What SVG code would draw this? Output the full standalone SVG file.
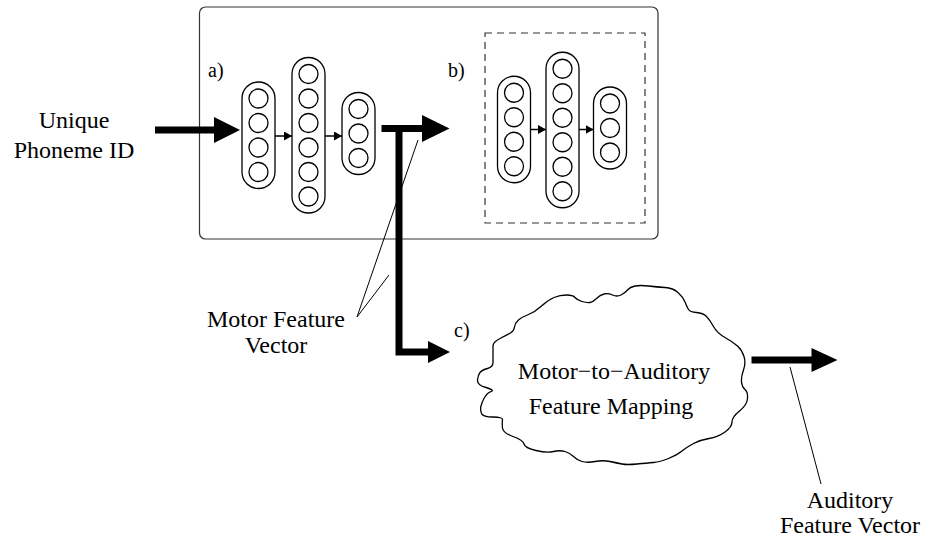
<svg xmlns="http://www.w3.org/2000/svg" width="929" height="539" viewBox="0 0 929 539">
<defs>
<style>
.t{font-family:"Liberation Serif","Times New Roman",serif;font-size:24px;fill:#000}
.lbl{font-family:"Liberation Serif","Times New Roman",serif;font-size:20px;fill:#000}
.pill{fill:#fff;stroke:#000;stroke-width:1.3}
.c{fill:#fff;stroke:#000;stroke-width:1.3}
.thin{stroke:#000;stroke-width:1;fill:none}
.sa{stroke:#000;stroke-width:1.5;fill:none;marker-end:url(#sm)}
.thick{stroke:#000;stroke-width:7;fill:none}
.head{fill:#000;stroke:none}
</style>
<marker id="sm" markerUnits="userSpaceOnUse" markerWidth="8" markerHeight="9" refX="8" refY="4.5" orient="auto">
<path d="M0,0 L8,4.5 L0,9 Z" fill="#000"/>
</marker>
</defs>
<rect width="929" height="539" fill="#fff"/>

<g id="frame">
<rect x="199.5" y="7" width="458.5" height="232" rx="6" fill="none" stroke="#333" stroke-width="1.2"/>
<rect x="485" y="33" width="160" height="190" fill="none" stroke="#333" stroke-width="1.2" stroke-dasharray="7,5"/>
</g>

<g id="net-a">
<rect class="pill" x="242" y="82" width="33" height="106.5" rx="16.5"/>
<circle class="c" cx="258.5" cy="98.5" r="9.5"/><circle class="c" cx="258.5" cy="123" r="9.5"/><circle class="c" cx="258.5" cy="147.5" r="9.5"/><circle class="c" cx="258.5" cy="172" r="9.5"/>
<rect class="pill" x="292" y="57.5" width="33" height="155.5" rx="16.5"/>
<circle class="c" cx="308.5" cy="74" r="9.5"/><circle class="c" cx="308.5" cy="98.5" r="9.5"/><circle class="c" cx="308.5" cy="123" r="9.5"/><circle class="c" cx="308.5" cy="147.5" r="9.5"/><circle class="c" cx="308.5" cy="172" r="9.5"/><circle class="c" cx="308.5" cy="196.5" r="9.5"/>
<rect class="pill" x="342" y="92.5" width="33" height="82" rx="16.5"/>
<circle class="c" cx="358.5" cy="109" r="9.5"/><circle class="c" cx="358.5" cy="133.5" r="9.5"/><circle class="c" cx="358.5" cy="158" r="9.5"/>
<line class="sa" x1="275" y1="136" x2="292" y2="136"/>
<line class="sa" x1="325" y1="136" x2="342" y2="136"/>
</g>

<g id="net-b">
<rect class="pill" x="497.5" y="76.25" width="33" height="106.5" rx="16.5"/>
<circle class="c" cx="514" cy="92.75" r="9.5"/><circle class="c" cx="514" cy="117.25" r="9.5"/><circle class="c" cx="514" cy="141.75" r="9.5"/><circle class="c" cx="514" cy="166.25" r="9.5"/>
<rect class="pill" x="546" y="52.25" width="33" height="155.5" rx="16.5"/>
<circle class="c" cx="562.5" cy="68.75" r="9.5"/><circle class="c" cx="562.5" cy="93.25" r="9.5"/><circle class="c" cx="562.5" cy="117.75" r="9.5"/><circle class="c" cx="562.5" cy="142.25" r="9.5"/><circle class="c" cx="562.5" cy="166.75" r="9.5"/><circle class="c" cx="562.5" cy="191.25" r="9.5"/>
<rect class="pill" x="593.5" y="87" width="33" height="82" rx="16.5"/>
<circle class="c" cx="610" cy="103.5" r="9.5"/><circle class="c" cx="610" cy="128" r="9.5"/><circle class="c" cx="610" cy="152.5" r="9.5"/>
<line class="sa" x1="530.5" y1="129.5" x2="546" y2="129.5"/>
<line class="sa" x1="579" y1="129.5" x2="593.5" y2="129.5"/>
</g>

<g id="cloud">
<path fill="#fff" stroke="#000" stroke-width="1.3" stroke-linejoin="round" d="M493,346 Q493,342 500,338.5 Q507,335 510.5,333 Q514,331 514.5,327 Q515,323 518.5,320 Q522,317 528.5,314.5 Q535,312 541.5,306 Q548,300 554,297.5 Q560,295 566.5,295 Q573,295 575,297.5 Q577,300 582,301.5 Q587,303 590,302.5 Q593,302 596.5,298.5 Q600,295 604,294 Q608,293 612.5,295 Q617,297 621,295 Q625,293 627.5,290 Q630,287 635,286 Q640,285 648.5,286 Q657,287 665,287.5 Q673,288 678,292.5 Q683,297 685,302 Q687,307 688.5,309.5 Q690,312 696.5,312.5 Q703,313 706.5,316.5 Q710,320 713.5,326.5 Q717,333 725,337.5 Q733,342 737.5,346 Q742,350 744,356.5 Q746,363 743.5,370 Q741,377 741.5,382 Q742,387 745,389.5 Q748,392 747.5,398.5 Q747,405 739.5,411 Q732,417 732,422 Q732,427 725,432 Q718,437 709,438.5 Q700,440 693.5,443.5 Q687,447 682,451 Q677,455 668.5,458.5 Q660,462 653.5,462.5 Q647,463 637,464 Q627,465 622,464 Q617,463 610,461.5 Q603,460 595,461.5 Q587,463 582,461.5 Q577,460 573.5,456.5 Q570,453 565,451.5 Q560,450 553.5,451.5 Q547,453 536,450.5 Q525,448 524,444 Q523,440 513,436.5 Q503,433 502.5,428 Q502,423 502.5,420 Q503,417 493,417 Q483,417 481.5,413.5 Q480,410 481,406 Q482,402 484.5,397.5 Q487,393 491,391.5 Q495,390 486,387.5 Q477,385 477.5,380 Q478,375 480,372.5 Q482,370 487.5,368.5 Q493,367 493,362.5 Q493,358 493,354 Q493,350 493,346 Z"/>
<text class="t" x="614" y="379" text-anchor="middle">Motor−to−Auditory</text>
<text class="t" x="611" y="414" text-anchor="middle">Feature Mapping</text>
</g>

<g id="connectors">
<line class="thick" x1="155" y1="130" x2="215" y2="130" stroke-width="6"/>
<polygon class="head" points="214,117 240,130 214,143"/>
<line class="thick" x1="381.5" y1="128.5" x2="423" y2="128.5"/>
<polygon class="head" points="422,115 449.5,128.5 422,142"/>
<polyline class="thick" points="399,125 399,352 429,352" stroke-linejoin="miter"/>
<polygon class="head" points="428,341 450,352 428,363"/>
<line class="thick" x1="751.5" y1="360" x2="813" y2="360" stroke-width="6"/>
<polygon class="head" points="811.5,348 837.5,360 811.5,372"/>
<line class="thin" x1="357" y1="317" x2="418" y2="140"/>
<line class="thin" x1="357" y1="317" x2="389" y2="275"/>
<line class="thin" x1="790" y1="367" x2="821" y2="484"/>
</g>

<g id="labels">
<text class="t" x="74" y="128" text-anchor="middle">Unique</text>
<text class="t" x="74" y="157.5" text-anchor="middle">Phoneme ID</text>
<text class="t" x="276" y="326.5" text-anchor="middle">Motor Feature</text>
<text class="t" x="276" y="352.5" text-anchor="middle">Vector</text>
<text class="t" x="850" y="508" text-anchor="middle">Auditory</text>
<text class="t" x="850" y="533" text-anchor="middle">Feature Vector</text>
<text class="lbl" x="208" y="77">a)</text>
<text class="lbl" x="448" y="77">b)</text>
<text class="lbl" x="454" y="337">c)</text>
</g>
</svg>
